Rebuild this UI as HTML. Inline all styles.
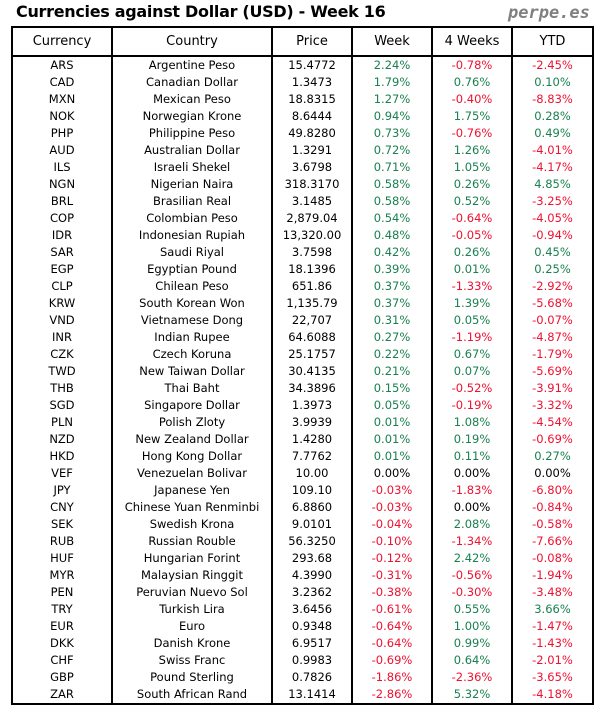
<!DOCTYPE html>
<html><head><meta charset="utf-8"><style>
body{margin:0;width:604px;height:716px;background:#fff;position:relative;font-family:"DejaVu Sans","Liberation Sans",sans-serif;}
.t{position:absolute;left:16px;top:2px;font-size:16px;color:#000;font-weight:bold;letter-spacing:-0.3px}
.p{position:absolute;left:508px;top:3px;font-size:17px;color:#808080;font-weight:bold;font-style:italic;font-family:"DejaVu Sans Mono","Liberation Mono",monospace;}
table{position:absolute;left:11px;top:26px;border-collapse:collapse;border:2px solid #000;font-size:11.5px;}
td{padding:0;height:17px;line-height:17px;text-align:center;border-left:2px solid #000;border-right:2px solid #000;color:#000;white-space:nowrap}
tr.h td{height:27px;line-height:27px;border-bottom:2px solid #000;font-size:13px}
.g{color:#1a8050}.r{color:#f01030}
</style></head><body>
<div class="t">Currencies against Dollar (USD) - Week 16</div>
<div class="p">perpe.es</div>
<table>
<colgroup><col style="width:100px"><col style="width:160px"><col style="width:80px"><col style="width:80px"><col style="width:80px"><col style="width:81px"></colgroup>
<tr class="h"><td>Currency</td><td>Country</td><td>Price</td><td>Week</td><td>4 Weeks</td><td>YTD</td></tr>
<tr><td>ARS</td><td>Argentine Peso</td><td>15.4772</td><td class="g">2.24%</td><td class="r">-0.78%</td><td class="r">-2.45%</td></tr>
<tr><td>CAD</td><td>Canadian Dollar</td><td>1.3473</td><td class="g">1.79%</td><td class="g">0.76%</td><td class="g">0.10%</td></tr>
<tr><td>MXN</td><td>Mexican Peso</td><td>18.8315</td><td class="g">1.27%</td><td class="r">-0.40%</td><td class="r">-8.83%</td></tr>
<tr><td>NOK</td><td>Norwegian Krone</td><td>8.6444</td><td class="g">0.94%</td><td class="g">1.75%</td><td class="g">0.28%</td></tr>
<tr><td>PHP</td><td>Philippine Peso</td><td>49.8280</td><td class="g">0.73%</td><td class="r">-0.76%</td><td class="g">0.49%</td></tr>
<tr><td>AUD</td><td>Australian Dollar</td><td>1.3291</td><td class="g">0.72%</td><td class="g">1.26%</td><td class="r">-4.01%</td></tr>
<tr><td>ILS</td><td>Israeli Shekel</td><td>3.6798</td><td class="g">0.71%</td><td class="g">1.05%</td><td class="r">-4.17%</td></tr>
<tr><td>NGN</td><td>Nigerian Naira</td><td>318.3170</td><td class="g">0.58%</td><td class="g">0.26%</td><td class="g">4.85%</td></tr>
<tr><td>BRL</td><td>Brasilian Real</td><td>3.1485</td><td class="g">0.58%</td><td class="g">0.52%</td><td class="r">-3.25%</td></tr>
<tr><td>COP</td><td>Colombian Peso</td><td>2,879.04</td><td class="g">0.54%</td><td class="r">-0.64%</td><td class="r">-4.05%</td></tr>
<tr><td>IDR</td><td>Indonesian Rupiah</td><td>13,320.00</td><td class="g">0.48%</td><td class="r">-0.05%</td><td class="r">-0.94%</td></tr>
<tr><td>SAR</td><td>Saudi Riyal</td><td>3.7598</td><td class="g">0.42%</td><td class="g">0.26%</td><td class="g">0.45%</td></tr>
<tr><td>EGP</td><td>Egyptian Pound</td><td>18.1396</td><td class="g">0.39%</td><td class="g">0.01%</td><td class="g">0.25%</td></tr>
<tr><td>CLP</td><td>Chilean Peso</td><td>651.86</td><td class="g">0.37%</td><td class="r">-1.33%</td><td class="r">-2.92%</td></tr>
<tr><td>KRW</td><td>South Korean Won</td><td>1,135.79</td><td class="g">0.37%</td><td class="g">1.39%</td><td class="r">-5.68%</td></tr>
<tr><td>VND</td><td>Vietnamese Dong</td><td>22,707</td><td class="g">0.31%</td><td class="g">0.05%</td><td class="r">-0.07%</td></tr>
<tr><td>INR</td><td>Indian Rupee</td><td>64.6088</td><td class="g">0.27%</td><td class="r">-1.19%</td><td class="r">-4.87%</td></tr>
<tr><td>CZK</td><td>Czech Koruna</td><td>25.1757</td><td class="g">0.22%</td><td class="g">0.67%</td><td class="r">-1.79%</td></tr>
<tr><td>TWD</td><td>New Taiwan Dollar</td><td>30.4135</td><td class="g">0.21%</td><td class="g">0.07%</td><td class="r">-5.69%</td></tr>
<tr><td>THB</td><td>Thai Baht</td><td>34.3896</td><td class="g">0.15%</td><td class="r">-0.52%</td><td class="r">-3.91%</td></tr>
<tr><td>SGD</td><td>Singapore Dollar</td><td>1.3973</td><td class="g">0.05%</td><td class="r">-0.19%</td><td class="r">-3.32%</td></tr>
<tr><td>PLN</td><td>Polish Zloty</td><td>3.9939</td><td class="g">0.01%</td><td class="g">1.08%</td><td class="r">-4.54%</td></tr>
<tr><td>NZD</td><td>New Zealand Dollar</td><td>1.4280</td><td class="g">0.01%</td><td class="g">0.19%</td><td class="r">-0.69%</td></tr>
<tr><td>HKD</td><td>Hong Kong Dollar</td><td>7.7762</td><td class="g">0.01%</td><td class="g">0.11%</td><td class="g">0.27%</td></tr>
<tr><td>VEF</td><td>Venezuelan Bolivar</td><td>10.00</td><td>0.00%</td><td>0.00%</td><td>0.00%</td></tr>
<tr><td>JPY</td><td>Japanese Yen</td><td>109.10</td><td class="r">-0.03%</td><td class="r">-1.83%</td><td class="r">-6.80%</td></tr>
<tr><td>CNY</td><td>Chinese Yuan Renminbi</td><td>6.8860</td><td class="r">-0.03%</td><td>0.00%</td><td class="r">-0.84%</td></tr>
<tr><td>SEK</td><td>Swedish Krona</td><td>9.0101</td><td class="r">-0.04%</td><td class="g">2.08%</td><td class="r">-0.58%</td></tr>
<tr><td>RUB</td><td>Russian Rouble</td><td>56.3250</td><td class="r">-0.10%</td><td class="r">-1.34%</td><td class="r">-7.66%</td></tr>
<tr><td>HUF</td><td>Hungarian Forint</td><td>293.68</td><td class="r">-0.12%</td><td class="g">2.42%</td><td class="r">-0.08%</td></tr>
<tr><td>MYR</td><td>Malaysian Ringgit</td><td>4.3990</td><td class="r">-0.31%</td><td class="r">-0.56%</td><td class="r">-1.94%</td></tr>
<tr><td>PEN</td><td>Peruvian Nuevo Sol</td><td>3.2362</td><td class="r">-0.38%</td><td class="r">-0.30%</td><td class="r">-3.48%</td></tr>
<tr><td>TRY</td><td>Turkish Lira</td><td>3.6456</td><td class="r">-0.61%</td><td class="g">0.55%</td><td class="g">3.66%</td></tr>
<tr><td>EUR</td><td>Euro</td><td>0.9348</td><td class="r">-0.64%</td><td class="g">1.00%</td><td class="r">-1.47%</td></tr>
<tr><td>DKK</td><td>Danish Krone</td><td>6.9517</td><td class="r">-0.64%</td><td class="g">0.99%</td><td class="r">-1.43%</td></tr>
<tr><td>CHF</td><td>Swiss Franc</td><td>0.9983</td><td class="r">-0.69%</td><td class="g">0.64%</td><td class="r">-2.01%</td></tr>
<tr><td>GBP</td><td>Pound Sterling</td><td>0.7826</td><td class="r">-1.86%</td><td class="r">-2.36%</td><td class="r">-3.65%</td></tr>
<tr><td>ZAR</td><td>South African Rand</td><td>13.1414</td><td class="r">-2.86%</td><td class="g">5.32%</td><td class="r">-4.18%</td></tr>
</table>
</body></html>
